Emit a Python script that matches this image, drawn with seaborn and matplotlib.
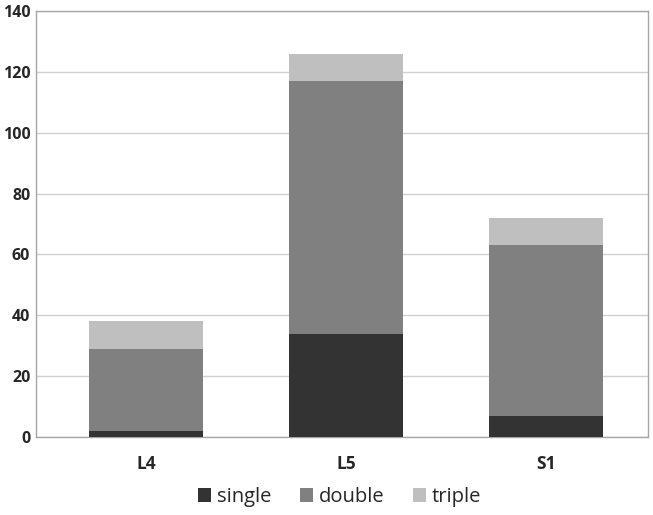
import pandas as pd
import matplotlib.pyplot as plt
import seaborn as sns
from matplotlib.patches import Patch

# data
levels = ["L4", "L5", "S1"]
single = [2, 34, 7]
double = [27, 83, 56]
triple = [9, 9, 9]
series = ["single", "double", "triple"]
colors = ["#333333", "#808080", "#bfbfbf"]

df = pd.DataFrame({"level": levels, "single": single, "double": double, "triple": triple})
df["c_single"] = df["single"]
df["c_double"] = df["c_single"] + df["double"]
df["c_triple"] = df["c_double"] + df["triple"]

sns.set_style("white")
plt.rcParams["font.family"] = ["Open Sans", "DejaVu Sans"]

fig = plt.figure(figsize=(6.53, 5.15), dpi=100)
ax = fig.add_axes([0.055, 0.1515, 0.937, 0.827])

# stacked: draw cumulative totals from the top layer down
for name, col in zip(reversed(series), reversed(colors)):
    sns.barplot(data=df, x="level", y="c_" + name, color=col, width=0.57,
                saturation=1, ax=ax, zorder=3, linewidth=0)

ax.set_ylim(0, 140)
ax.set_yticks(range(0, 141, 20))
ax.set_xlim(-0.55, 2.51)
ax.yaxis.grid(True, color="#d0d0d0", linewidth=1, zorder=0)
ax.set_axisbelow(True)
for s in ax.spines.values():
    s.set_color("#a6a6a6")
    s.set_linewidth(1)
ax.set_xlabel("")
ax.set_ylabel("")
ax.tick_params(axis="both", length=0)
ax.tick_params(axis="y", labelsize=11.5, pad=4)
ax.tick_params(axis="x", labelsize=12.5, pad=13)
for t in ax.get_xticklabels() + ax.get_yticklabels():
    t.set_fontweight("bold")

handles = [Patch(facecolor=c, edgecolor="none", label=n) for n, c in zip(series, colors)]
fig.legend(handles=handles, loc="center", bbox_to_anchor=(0.52, 0.035), ncol=3,
           frameon=False, fontsize=14.5, handlelength=0.65, handleheight=0.65,
           columnspacing=1.4, handletextpad=0.3)

fig.savefig("out.png", dpi=100)
